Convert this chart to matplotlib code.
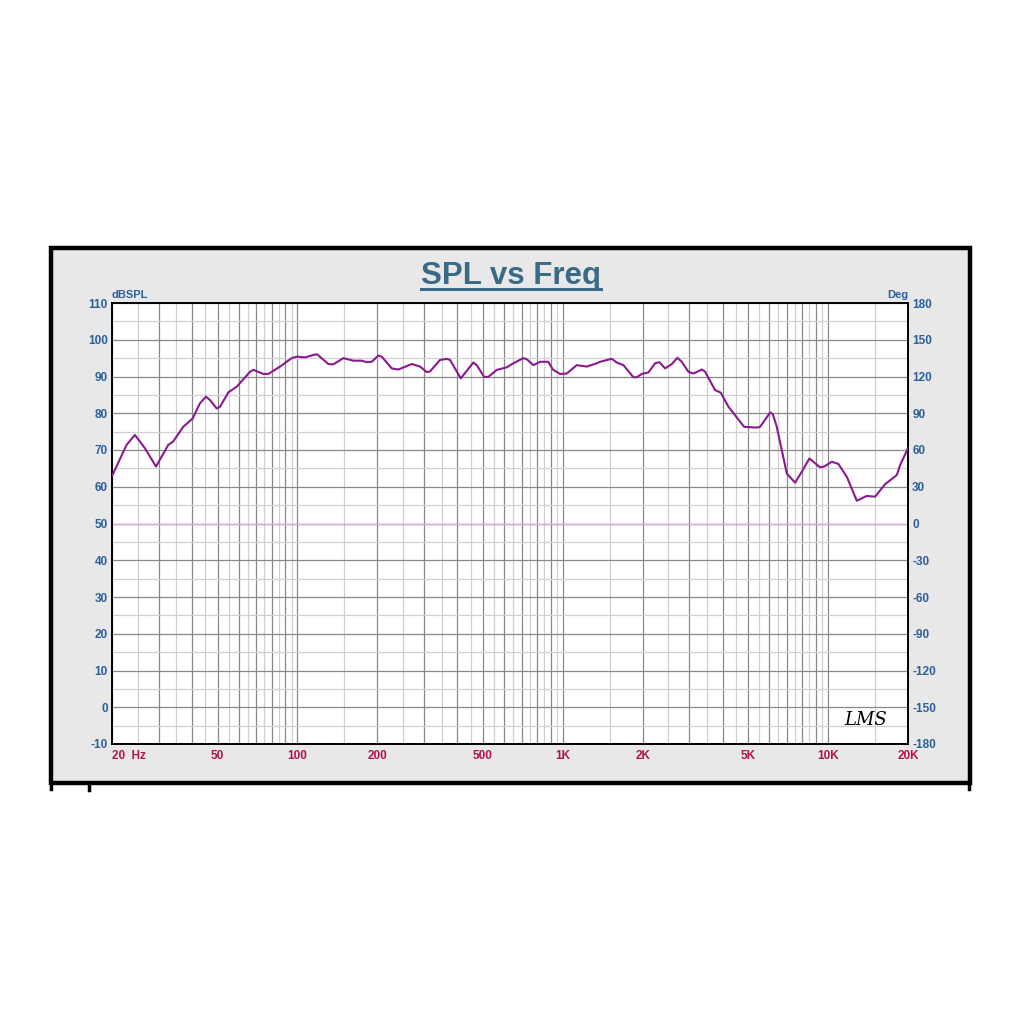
import numpy as np
import matplotlib
matplotlib.use("Agg")
import matplotlib.pyplot as plt
from matplotlib.patches import Rectangle
from matplotlib.lines import Line2D

plt.rcParams['font.family'] = ['Liberation Sans', 'DejaVu Sans']
plt.rcParams['axes.unicode_minus'] = False

# SPL response (Hz, dB SPL)
freq = [20, 22.7, 24.4, 26.6, 29.3, 32.6, 34.0, 37.1, 40.3, 42.9, 45.2, 46.8,
        49.6, 51.1, 54.9, 59.0, 66.3, 68.2, 74.4, 77.7, 86.0, 95.1, 99.4,
        106.8, 116.5, 118.8, 130.7, 136.5, 148.9, 162.4, 174.7, 182.4, 190.5,
        201.8, 207.8, 226.6, 240, 269.6, 289.8, 307.2, 316, 344.7, 365.3, 376,
        412.5, 460.2, 474, 505, 524, 564, 615, 651, 710, 731, 775, 821, 882,
        917, 977, 1035, 1129, 1231, 1343, 1382, 1507, 1530, 1598, 1692, 1845,
        1900, 1985, 2102, 2228, 2312, 2430, 2576, 2703, 2808, 2974, 3106, 3342,
        3438, 3750, 3940, 4208, 4822, 5384, 5540, 6043, 6186, 6404, 6988, 7508,
        7957, 8500, 8930, 9326, 9655, 10324, 10932, 11760, 12824, 13990, 15032,
        16398, 18152, 18678, 20000]
spl = [62.9, 71.4, 74.1, 70.5, 65.5, 71.4, 72.3, 76.3, 78.6, 82.7, 84.5, 83.6,
       81.3, 81.8, 85.7, 87.2, 91.3, 91.8, 90.7, 90.7, 92.7, 95.0, 95.4,
       95.2, 96.0, 96.0, 93.4, 93.3, 95.0, 94.3, 94.3, 93.9, 94.0,
       95.7, 95.4, 92.2, 91.9, 93.4, 92.7, 91.2, 91.4, 94.5, 94.8, 94.5,
       89.5, 93.8, 93.1, 89.9, 89.9, 91.8, 92.5, 93.6, 95.0, 94.7, 93.1, 94.0, 94.0,
       91.9, 90.7, 90.8, 93.1, 92.7, 93.6, 94.0, 94.7, 94.8, 93.8, 93.1, 89.8,
       89.8, 90.7, 91.1, 93.6, 93.9, 92.2, 93.4, 95.1, 94.0, 91.3, 90.8, 91.9,
       91.3, 86.3, 85.6, 81.8, 76.3, 76.1, 76.3, 80.2, 79.8, 76.3, 63.6, 61.1,
       64.1, 67.7, 66.4, 65.3, 65.5, 66.8, 66.2, 62.7, 56.2, 57.5, 57.3,
       60.7, 63.2, 65.9, 70.5]

x_labels = {20: "20  Hz", 50: "50", 100: "100", 200: "200", 500: "500",
            1000: "1K", 2000: "2K", 5000: "5K", 10000: "10K", 20000: "20K"}

blue = "#2b5f9c"
red = "#b3124f"
purple = "#8a1a8e"

fig = plt.figure(figsize=(10.24, 10.24), dpi=100)
fig.patch.set_facecolor("white")

def fx(px):
    return px / 1024

def fy(py):
    return 1 - py / 1024

# grey panel with heavy border
fig.patches.append(Rectangle((fx(51), fy(783)), fx(919), 535 / 1024,
                             transform=fig.transFigure, facecolor="#e8e8e8",
                             edgecolor="black", lw=3.2, zorder=-5))
for xs, ys in [([51, 51], [783, 789]), ([969, 969], [783, 789]),
               ([89, 89], [783, 790])]:
    fig.lines.append(Line2D([fx(v) for v in xs], [fy(v) for v in ys],
                            transform=fig.transFigure, color="black", lw=2.5,
                            zorder=-4))

ax = fig.add_axes([fx(112), fy(744), 796 / 1024, 441 / 1024])
ax.set_zorder(1)
ax.set_facecolor("white")
ax.set_xscale("log")
ax.set_xlim(20, 20000)
ax.set_ylim(-10, 110)

# grid: dark at 1..9 per decade, light at the half steps
major_f = []
minor_f = []
for dec in [10, 100, 1000, 10000]:
    for m in range(1, 10):
        f = m * dec
        if 20 <= f <= 20000:
            major_f.append(f)
        f2 = (m + 0.5) * dec
        if 20 <= f2 <= 20000:
            minor_f.append(f2)
ax.set_xticks(major_f)
ax.set_xticklabels([x_labels.get(f, "") for f in major_f])
ax.set_xticks(minor_f, minor=True)
ax.set_xticklabels([], minor=True)
ax.set_yticks(np.arange(-10, 111, 10))
ax.set_yticks(np.arange(-5, 110, 10), minor=True)

ax.grid(which="major", color="#888888", lw=0.9)
ax.grid(which="minor", color="#d0d0d0", lw=0.9)
ax.set_axisbelow(True)

ax.tick_params(axis="both", which="both", length=0)
ax.tick_params(axis="x", pad=4, labelsize=8.5, labelcolor=red)
ax.tick_params(axis="y", pad=3, labelsize=8.5, labelcolor=blue)
for lab in ax.get_xticklabels() + ax.get_yticklabels():
    lab.set_fontweight("bold")
ax.get_xticklabels()[0].set_horizontalalignment("left")

for sp in ax.spines.values():
    sp.set_color("black")
    sp.set_linewidth(1.4)

ax.axhline(50, color="#dca6e4", lw=1.0, zorder=2)
ax.plot(freq, spl, color=purple, lw=1.5, zorder=3)

ax2 = ax.twinx()
ax2.set_zorder(2)
ax2.patch.set_visible(False)
ax2.set_ylim(-180, 180)
ax2.set_yticks(np.arange(-180, 181, 30))
ax2.tick_params(axis="y", length=0, pad=3, labelsize=8.5, labelcolor=blue)
for lab in ax2.get_yticklabels():
    lab.set_fontweight("bold")
for sp in ax2.spines.values():
    sp.set_visible(False)

fig.text(fx(112), fy(295), "dBSPL", color=blue, fontsize=8,
         fontweight="bold", ha="left", va="center")
fig.text(fx(908), fy(295), "Deg", color=blue, fontsize=8,
         fontweight="bold", ha="right", va="center")

# title with underline
fig.text(fx(511), fy(284), "SPL vs Freq", color="#3b6a86", fontsize=22.5,
         fontweight="bold", ha="center", va="baseline")
fig.lines.append(Line2D([fx(421), fx(601)], [fy(289), fy(289)],
                        transform=fig.transFigure, color="#3b6a86", lw=2.2))

# LMS signature
ax2.text(0.947, 0.035, "LMS", transform=ax2.transAxes, fontsize=13,
         fontstyle="italic", family="DejaVu Serif", color="black",
         ha="center", va="bottom")

fig.savefig("out.png", dpi=100)
